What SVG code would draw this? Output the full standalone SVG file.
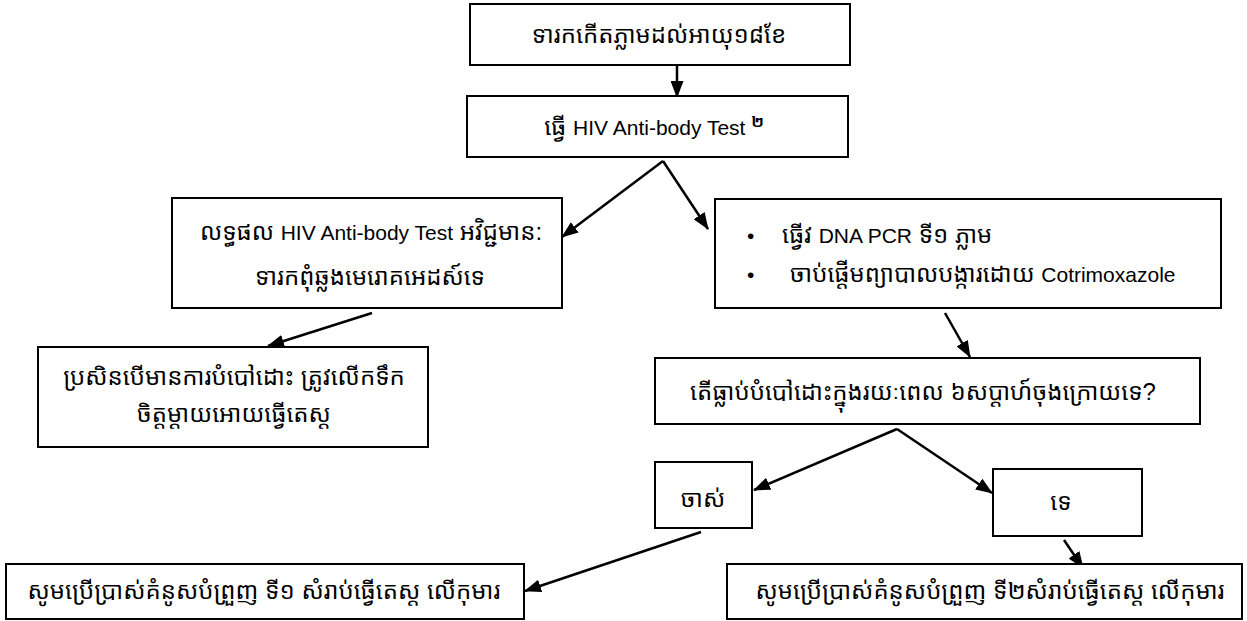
<svg xmlns="http://www.w3.org/2000/svg" width="1247" height="621" viewBox="0 0 1247 621">
<defs>
<style>
.box{fill:#fff;stroke:#000;stroke-width:2}
.t{font-family:"Liberation Sans","Noto Sans Khmer","Khmer OS","Noto Sans",sans-serif;font-size:24px;fill:#000}
.l{font-size:21px}
.c{text-anchor:middle}
.e{stroke:#000;stroke-width:2.5;fill:none;marker-end:url(#ah)}
</style>
<marker id="ah" markerUnits="userSpaceOnUse" markerWidth="17" markerHeight="13" refX="16" refY="6.5" orient="auto">
<path d="M0,0 L17,6.5 L0,13 z" fill="#000"/>
</marker>
</defs>
<rect width="1247" height="621" fill="#fff"/>
<g id="connectors">
<line class="e" x1="677" y1="66" x2="677" y2="97"/>
<line class="e" x1="663" y1="161" x2="562" y2="237"/>
<line class="e" x1="663" y1="161" x2="708" y2="229"/>
<line class="e" x1="372" y1="313" x2="268" y2="346"/>
<line class="e" x1="945" y1="313" x2="970" y2="357"/>
<line class="e" x1="897" y1="429" x2="754" y2="490"/>
<line class="e" x1="897" y1="429" x2="992" y2="493"/>
<line class="e" x1="701" y1="532" x2="525" y2="591"/>
<line class="e" x1="1064" y1="540" x2="1083" y2="568"/>
</g>
<g id="n1"><rect class="box" x="470" y="4" width="380" height="61"/><text class="t c" x="659" y="43">ទារកកើតភ្លាមដល់អាយុ១៨ខែ</text></g>
<g id="n2"><rect class="box" x="467" y="96" width="381" height="61"/><text class="t c" x="654" y="135">ធ្វើ <tspan class="l">HIV Anti-body Test </tspan><tspan font-size="15" font-weight="bold" dy="-8">២</tspan></text></g>
<g id="n3"><rect class="box" x="172" y="198" width="390" height="110"/><text class="t c" x="371" y="240">លទ្ធផល <tspan class="l">HIV Anti-body Test</tspan> អវិជ្ជមាន:</text><text class="t c" x="370" y="285">ទារកពុំឆ្លងមេរោគអេដស៍ទេ</text></g>
<g id="n4"><rect class="box" x="715" y="199" width="506" height="109"/><text class="t l" x="747" y="243">•</text><text class="t" x="782" y="243">ធ្វើវ <tspan class="l">DNA PCR</tspan> ទី១ ភ្លាម</text><text class="t l" x="747" y="282">•</text><text class="t" x="790" y="282">ចាប់ផ្តើមព្យាបាលបង្ការដោយ <tspan class="l">Cotrimoxazole</tspan></text></g>
<g id="n5"><rect class="box" x="38" y="347" width="390" height="100"/><text class="t c" x="234" y="385">ប្រសិនបើមានការបំបៅដោះ ត្រូវលើកទឹក</text><text class="t c" x="234" y="422">ចិត្តម្តាយអោយធ្វើតេស្ត</text></g>
<g id="n6"><rect class="box" x="655" y="358" width="545" height="66"/><text class="t c" x="923" y="400">តើធ្លាប់បំបៅដោះក្នុងរយៈពេល ៦សប្តាហ៍ចុងក្រោយទេ?</text></g>
<g id="n7"><rect class="box" x="655" y="462" width="97" height="66"/><text class="t c" x="703" y="507">ចាស់</text></g>
<g id="n8"><rect class="box" x="993" y="469" width="149" height="67"/><text class="t c" x="1061" y="510">ទេ</text></g>
<g id="n9"><rect class="box" x="6" y="564" width="518" height="55"/><text class="t c" x="264" y="599">សូមប្រើប្រាស់គំនូសបំព្រួញ ទី១ សំរាប់ធ្វើតេស្ត លើកុមារ</text></g>
<g id="n10"><rect class="box" x="727" y="564" width="515" height="55"/><text class="t c" x="990" y="599" font-size="25">សូមប្រើប្រាស់គំនូសបំព្រួញ ទី២សំរាប់ធ្វើតេស្ត លើកុមារ</text></g>
</svg>
